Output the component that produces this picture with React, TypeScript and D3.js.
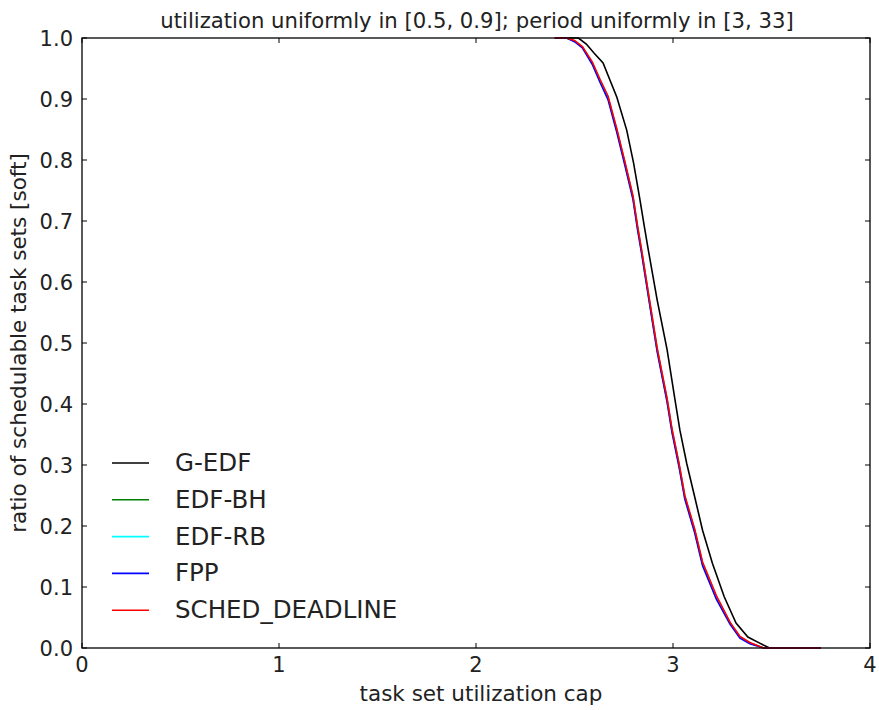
import React from "react";
import * as d3 from "d3";

const title = "utilization uniformly in [0.5, 0.9]; period uniformly in [3, 33]";
const xLabel = "task set utilization cap";
const yLabel = "ratio of schedulable task sets [soft]";
const xTicks = [0, 1, 2, 3, 4];
const yTicks = [0, 0.1, 0.2, 0.3, 0.4, 0.5, 0.6, 0.7, 0.8, 0.9, 1.0];

const gedfX = [2.40, 2.52, 2.56, 2.60, 2.645, 2.715, 2.765, 2.80, 2.83, 2.855, 2.875, 2.92, 2.97, 3.01, 3.035, 3.07, 3.11, 3.15, 3.20, 3.26, 3.32, 3.38, 3.44, 3.49, 3.75];
const gedfY = [1.0, 1.0, 0.99, 0.975, 0.959, 0.903, 0.849, 0.795, 0.739, 0.69, 0.652, 0.57, 0.489, 0.407, 0.357, 0.302, 0.248, 0.193, 0.139, 0.084, 0.041, 0.018, 0.008, 0.0, 0.0];

const otherX = [2.40, 2.46, 2.50, 2.54, 2.59, 2.63, 2.67, 2.715, 2.756, 2.797, 2.82, 2.84, 2.88, 2.92, 2.97, 2.995, 3.03, 3.06, 3.11, 3.15, 3.22, 3.29, 3.34, 3.39, 3.46, 3.75];
const edfbhY = [1.0, 1.0, 0.995, 0.985, 0.959, 0.93, 0.903, 0.849, 0.795, 0.739, 0.69, 0.652, 0.57, 0.489, 0.407, 0.357, 0.302, 0.248, 0.193, 0.139, 0.084, 0.041, 0.018, 0.008, 0.0, 0.0];
const edfrbY = [1.0, 1.0, 0.995, 0.985, 0.958, 0.929, 0.901, 0.847, 0.793, 0.737, 0.688, 0.650, 0.568, 0.487, 0.405, 0.355, 0.300, 0.246, 0.191, 0.137, 0.082, 0.040, 0.017, 0.008, 0.0, 0.0];
const fppY = [1.0, 1.0, 0.994, 0.984, 0.957, 0.927, 0.899, 0.845, 0.791, 0.735, 0.686, 0.648, 0.566, 0.485, 0.403, 0.353, 0.298, 0.244, 0.189, 0.135, 0.080, 0.039, 0.016, 0.007, 0.0, 0.0];
const schedY = [1.0, 1.0, 0.996, 0.986, 0.961, 0.932, 0.905, 0.851, 0.797, 0.741, 0.692, 0.654, 0.572, 0.491, 0.409, 0.359, 0.304, 0.250, 0.195, 0.141, 0.086, 0.042, 0.019, 0.009, 0.0, 0.0];

const seriesNames = ["G-EDF", "EDF-BH", "EDF-RB", "FPP", "SCHED_DEADLINE"];
const seriesColors = ["#000000", "#008000", "#00ffff", "#0000ff", "#ff0000"];

export default function App() {
  const W = 879, H = 710;
  const L = 82, R = 870, T = 38, B = 648;
  const x = d3.scaleLinear().domain([0, 4]).range([L, R]);
  const y = d3.scaleLinear().domain([0, 1]).range([B, T]);
  const line = d3.line<[number, number]>().x(d => x(d[0])).y(d => y(d[1]));
  const series: [number, number][][] = [
    gedfX.map((v, i) => [v, gedfY[i]]),
    otherX.map((v, i) => [v, edfbhY[i]]),
    otherX.map((v, i) => [v, edfrbY[i]]),
    otherX.map((v, i) => [v, fppY[i]]),
    otherX.map((v, i) => [v, schedY[i]]),
  ];
  const font = "DejaVu Sans, sans-serif";
  const tl = 5;
  const txt = "#222";
  return (
    <svg width={W} height={H} style={{ position: "absolute", left: 0, top: 0, background: "#fff" }} fontFamily={font}>
      <rect x={0} y={0} width={W} height={H} fill="#fff" />
      <defs>
        <clipPath id="plot"><rect x={L} y={T - 1} width={R - L} height={B - T + 2} /></clipPath>
      </defs>
      <g clipPath="url(#plot)">
        {series.map((s, i) => (
          <path key={i} d={line(s) || ""} fill="none" stroke={seriesColors[i]} strokeWidth={1.6} />
        ))}
      </g>
      {xTicks.map(t => (
        <g key={"x" + t}>
          <line x1={x(t)} x2={x(t)} y1={B} y2={B - tl} stroke="#000" />
          <line x1={x(t)} x2={x(t)} y1={T} y2={T + tl} stroke="#000" />
          <text x={x(t)} y={B + 24} textAnchor="middle" fontSize={21} fill={txt}>{t}</text>
        </g>
      ))}
      {yTicks.map(t => (
        <g key={"y" + t}>
          <line x1={L} x2={L + tl} y1={y(t)} y2={y(t)} stroke="#000" />
          <line x1={R} x2={R - tl} y1={y(t)} y2={y(t)} stroke="#000" />
          <text x={L - 9} y={y(t) + 7.5} textAnchor="end" fontSize={21} fill={txt}>{t.toFixed(1)}</text>
        </g>
      ))}
      <rect x={L} y={T} width={R - L} height={B - T} fill="none" stroke="#000" strokeWidth={1.3} />
      <text x={(L + R) / 2 + 1} y={28} textAnchor="middle" fontSize={21.2} fill={txt}>{title}</text>
      <text x={(L + R) / 2 + 5} y={701} textAnchor="middle" fontSize={21.5} fill={txt}>{xLabel}</text>
      <text transform={`translate(26,${(T + B) / 2}) rotate(-90)`} textAnchor="middle" fontSize={21.5} fill={txt}>{yLabel}</text>
      {seriesNames.map((n, i) => (
        <g key={n}>
          <line x1={112} x2={149} y1={463 + i * 36.8} y2={463 + i * 36.8} stroke={seriesColors[i]} strokeWidth={1.6} />
          <text x={175} y={463 + i * 36.8 + 8} fontSize={24.5} fill={txt}>{n}</text>
        </g>
      ))}
    </svg>
  );
}
